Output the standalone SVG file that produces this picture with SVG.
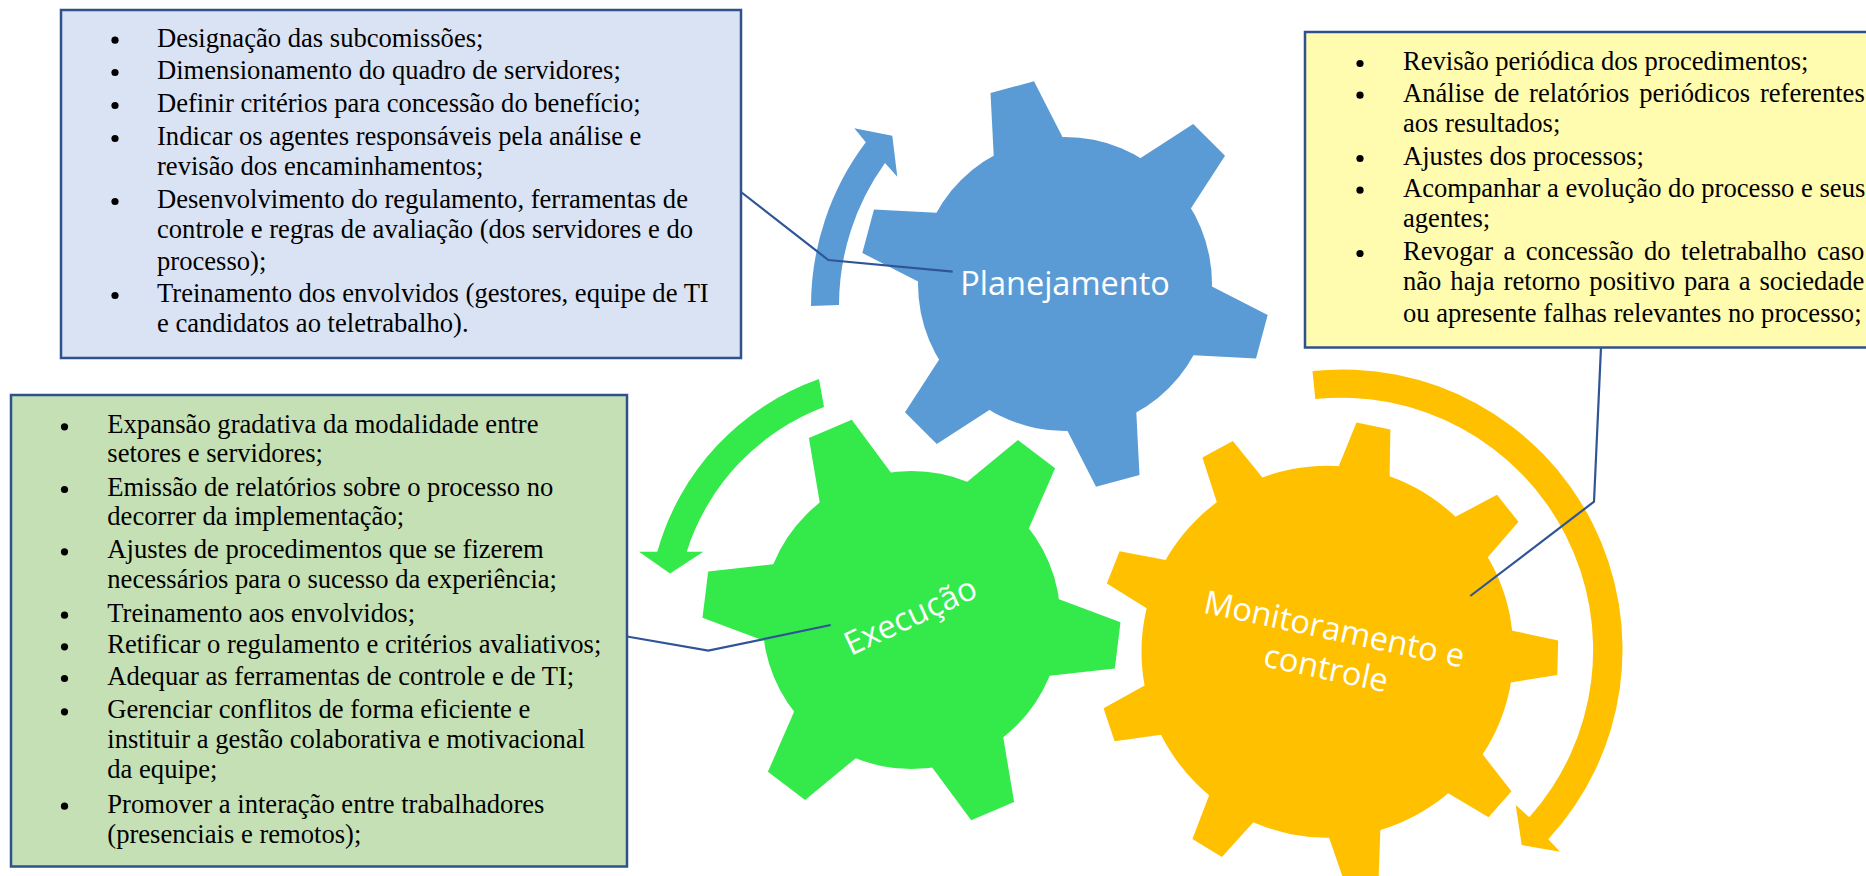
<svg xmlns="http://www.w3.org/2000/svg" xmlns:xlink="http://www.w3.org/1999/xlink" width="1866" height="876" viewBox="0 0 1866 876">
<style>
.box{stroke:#2F528F;stroke-width:2.5}
.bt{font-family:"Liberation Serif","Times New Roman",serif;font-size:26.6px;fill:#000}
.bul{fill:#000}
.gl{font-family:"Open Sans","Noto Sans",sans-serif;font-size:32.5px;fill:#fff}
.con{fill:none;stroke:#2F5597;stroke-width:2.2;stroke-linejoin:miter}
.blue{fill:#5B9BD5}
.green{fill:#33EA4A}
.yellow{fill:#FFC000}
</style>
<defs>
<polygon id="toothB" points="120,-35.6 142.6,-35.6 203.8,-22.5 203.8,22.5 142.6,35.6 120,35.6"/>
<polygon id="toothG" points="120,-38.6 143.9,-38.6 207.7,-23.3 207.7,23.3 143.9,38.6 120,38.6"/>
<polygon id="toothY" points="160,-25.9 184.2,-25.9 230.3,-17.3 230.3,17.3 184.2,25.9 160,25.9"/>
</defs>
<rect width="1866" height="876" fill="#fff"/>

<g id="box-planejamento">
<rect class="box" x="61" y="10" width="680" height="348" fill="#DAE3F3"/>
<g class="bul">
<circle cx="115" cy="40.2" r="3.6"/><circle cx="115" cy="72.5" r="3.6"/><circle cx="115" cy="105.5" r="3.6"/><circle cx="115" cy="138.5" r="3.6"/><circle cx="115" cy="201.5" r="3.6"/><circle cx="115" cy="295.5" r="3.6"/>
</g>
<text class="bt">
<tspan x="157" y="46.7">Designação das subcomissões;</tspan>
<tspan x="157" y="79">Dimensionamento do quadro de servidores;</tspan>
<tspan x="157" y="112">Definir critérios para concessão do benefício;</tspan>
<tspan x="157" y="145">Indicar os agentes responsáveis pela análise e</tspan>
<tspan x="157" y="175">revisão dos encaminhamentos;</tspan>
<tspan x="157" y="208">Desenvolvimento do regulamento, ferramentas de</tspan>
<tspan x="157" y="238">controle e regras de avaliação (dos servidores e do</tspan>
<tspan x="157" y="270">processo);</tspan>
<tspan x="157" y="302">Treinamento dos envolvidos (gestores, equipe de TI</tspan>
<tspan x="157" y="332">e candidatos ao teletrabalho).</tspan>
</text>
</g>

<g id="box-monitoramento">
<rect class="box" x="1305" y="32" width="580" height="315.5" fill="#FFFBAF"/>
<g class="bul">
<circle cx="1360" cy="63.5" r="3.6"/><circle cx="1360" cy="95.2" r="3.6"/><circle cx="1360" cy="158.5" r="3.6"/><circle cx="1360" cy="190.2" r="3.6"/><circle cx="1360" cy="253.5" r="3.6"/>
</g>
<text class="bt">
<tspan x="1403" y="70">Revisão periódica dos procedimentos;</tspan>
<tspan x="1403" y="101.7" word-spacing="3.2">Análise de relatórios periódicos referentes</tspan>
<tspan x="1403" y="131.7">aos resultados;</tspan>
<tspan x="1403" y="165">Ajustes dos processos;</tspan>
<tspan x="1403" y="196.7">Acompanhar a evolução do processo e seus</tspan>
<tspan x="1403" y="226.7">agentes;</tspan>
<tspan x="1403" y="260" word-spacing="3.8">Revogar a concessão do teletrabalho caso</tspan>
<tspan x="1403" y="290" word-spacing="2.3">não haja retorno positivo para a sociedade</tspan>
<tspan x="1403" y="321.7">ou apresente falhas relevantes no processo;</tspan>
</text>
</g>

<g id="box-execucao">
<rect class="box" x="11" y="395" width="616" height="471.5" fill="#C5E0B4"/>
<g class="bul">
<circle cx="64.5" cy="426.8" r="3.6"/><circle cx="64.5" cy="489.5" r="3.6"/><circle cx="64.5" cy="551.8" r="3.6"/><circle cx="64.5" cy="615.2" r="3.6"/><circle cx="64.5" cy="646.8" r="3.6"/><circle cx="64.5" cy="678.5" r="3.6"/><circle cx="64.5" cy="711.8" r="3.6"/><circle cx="64.5" cy="806.2" r="3.6"/>
</g>
<text class="bt">
<tspan x="107.3" y="433.3">Expansão gradativa da modalidade entre</tspan>
<tspan x="107.3" y="461.7">setores e servidores;</tspan>
<tspan x="107.3" y="496">Emissão de relatórios sobre o processo no</tspan>
<tspan x="107.3" y="525">decorrer da implementação;</tspan>
<tspan x="107.3" y="558.3">Ajustes de procedimentos que se fizerem</tspan>
<tspan x="107.3" y="588.3">necessários para o sucesso da experiência;</tspan>
<tspan x="107.3" y="621.7">Treinamento aos envolvidos;</tspan>
<tspan x="107.3" y="653.3">Retificar o regulamento e critérios avaliativos;</tspan>
<tspan x="107.3" y="685">Adequar as ferramentas de controle e de TI;</tspan>
<tspan x="107.3" y="718.3">Gerenciar conflitos de forma eficiente e</tspan>
<tspan x="107.3" y="748.3">instituir a gestão colaborativa e motivacional</tspan>
<tspan x="107.3" y="778.3">da equipe;</tspan>
<tspan x="107.3" y="812.7">Promover a interação entre trabalhadores</tspan>
<tspan x="107.3" y="842.7">(presenciais e remotos);</tspan>
</text>
</g>

<g id="arrows">
<path class="blue" d="M 811,306 A 272 272 0 0 1 865.8,142.3 L 854.3,128.3 L 892.3,135.7 L 897.3,176.7 L 885,163 A 244 244 0 0 0 839,305 Z"/>
<path class="green" d="M 819,379 A 256.5 256.5 0 0 0 657.3,551.7 L 639,551.7 L 670,573.5 L 703.3,551.7 L 686.7,551.7 A 228.5 228.5 0 0 1 824,407 Z"/>
<path class="yellow" d="M 1312.5,371 A 280 280 0 0 1 1548.3,839.3 L 1560,851.7 L 1521.7,845 L 1515.7,805 L 1529.3,817.3 A 252 252 0 0 0 1315.3,399 Z"/>
</g>

<g id="gear-planejamento">
<g class="blue" transform="translate(1065 284)">
<circle r="147"/>
<use xlink:href="#toothB" transform="rotate(-105)"/>
<use xlink:href="#toothB" transform="rotate(-45)"/>
<use xlink:href="#toothB" transform="rotate(15)"/>
<use xlink:href="#toothB" transform="rotate(75)"/>
<use xlink:href="#toothB" transform="rotate(135)"/>
<use xlink:href="#toothB" transform="rotate(195)"/>
</g>
<text class="gl" x="1065" y="295" text-anchor="middle">Planejamento</text>
</g>

<g id="gear-execucao">
<g class="green" transform="translate(911.5 620)">
<circle r="149"/>
<use xlink:href="#toothG" transform="rotate(-113)"/>
<use xlink:href="#toothG" transform="rotate(-53)"/>
<use xlink:href="#toothG" transform="rotate(7)"/>
<use xlink:href="#toothG" transform="rotate(67)"/>
<use xlink:href="#toothG" transform="rotate(127)"/>
<use xlink:href="#toothG" transform="rotate(187)"/>
</g>
<text class="gl" x="915" y="626" text-anchor="middle" transform="rotate(-25 915 626)">Execução</text>
</g>

<g id="gear-monitoramento">
<g class="yellow" transform="translate(1327.5 651.7)">
<circle r="186"/>
<use xlink:href="#toothY" transform="rotate(-78.5)"/>
<use xlink:href="#toothY" transform="rotate(-38.5)"/>
<use xlink:href="#toothY" transform="rotate(1.5)"/>
<use xlink:href="#toothY" transform="rotate(41.5)"/>
<use xlink:href="#toothY" transform="rotate(81.5)"/>
<use xlink:href="#toothY" transform="rotate(121.5)"/>
<use xlink:href="#toothY" transform="rotate(161.5)"/>
<use xlink:href="#toothY" transform="rotate(201.5)"/>
<use xlink:href="#toothY" transform="rotate(241.5)"/>
</g>
<text class="gl" text-anchor="middle" transform="rotate(12 1332 640)"><tspan x="1332" y="640">Monitoramento e</tspan><tspan x="1332" y="680">controle</tspan></text>
</g>

<g id="connectors">
<polyline class="con" points="741,192 828.3,260 952.7,271.7"/>
<polyline class="con" points="627,636.5 708.3,650.7 830.7,625"/>
<polyline class="con" points="1601,347 1594,501.7 1470.3,596"/>
</g>
</svg>
